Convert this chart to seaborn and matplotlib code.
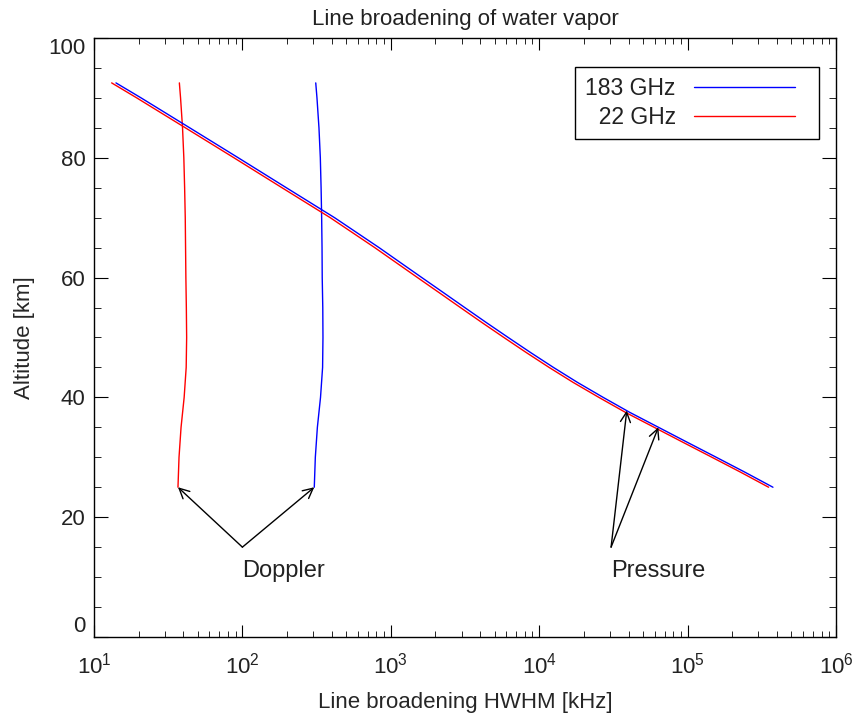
import matplotlib
matplotlib.use("Agg")
import matplotlib.pyplot as plt
from matplotlib.legend_handler import HandlerLine2D
import seaborn as sns
import pandas as pd

# pressure broadening HWHM [kHz] vs altitude [km]
altitude_p = [92.5, 90, 85, 80, 75, 70, 65, 62.5, 60, 57.5, 55, 52.5, 50,
              47.5, 45, 42.5, 40, 37.5, 35, 32.5, 30, 27.5, 25]
pressure_183 = [14.06, 20.75, 44.16, 93.76, 197.7, 417.8, 833.7, 1161, 1618,
                2259, 3148, 4395, 6180, 8730, 12470, 18110, 26980, 40740,
                63680, 99540, 156000, 243800, 375800]
pressure_22 = [13.15, 19.40, 41.29, 87.67, 184.8, 390.6, 779.5, 1086, 1513,
               2112, 2943, 4109, 5778, 8163, 11660, 16930, 25230, 38090,
               59540, 93070, 145900, 228000, 351400]

# doppler broadening HWHM [kHz] vs altitude [km]
altitude_d = [92.5, 90, 85, 80, 75, 70, 65, 60, 55, 50, 45, 40, 35, 30, 25]
doppler_22 = [37.6, 38.3, 39.5, 40.3, 40.8, 41.2, 41.4, 41.6, 41.9, 42.1,
              41.8, 40.5, 38.6, 37.4, 36.8]
doppler_183 = [312, 318, 328, 335, 339, 342, 344, 345, 348, 349,
               347, 336, 320, 310, 305]


class ShortLine(HandlerLine2D):
    # legend line that leaves some room at its right end
    def create_artists(self, legend, orig_handle, xdescent, ydescent,
                       width, height, fontsize, trans):
        return super().create_artists(legend, orig_handle, xdescent, ydescent,
                                      width * 0.88, height, fontsize, trans)


sns.set_style("ticks")
plt.rcParams['font.family'] = ['Liberation Sans', 'DejaVu Sans']
plt.rcParams['mathtext.default'] = 'regular'
plt.rcParams['text.color'] = '#222222'

fig = plt.figure(figsize=(8.53, 7.15), dpi=100)
ax = fig.add_axes([0.1102, 0.1091, 0.8699, 0.8378])

dfp = pd.DataFrame({"alt": altitude_p, "p183": pressure_183, "p22": pressure_22})
dfd = pd.DataFrame({"alt": altitude_d, "d183": doppler_183, "d22": doppler_22})

sns.lineplot(data=dfd, x="d22", y="alt", sort=False, estimator=None,
             color="red", lw=1, ax=ax)
sns.lineplot(data=dfd, x="d183", y="alt", sort=False, estimator=None,
             color="blue", lw=1, ax=ax)
sns.lineplot(data=dfp, x="p22", y="alt", sort=False, estimator=None,
             color="red", lw=1, ax=ax)
sns.lineplot(data=dfp, x="p183", y="alt", sort=False, estimator=None,
             color="blue", lw=1, ax=ax)

ax.set_xscale("log")
ax.set_xlim(10, 1e6)
ax.set_ylim(0, 100)
ax.set_yticks([0, 20, 40, 60, 80, 100])
ax.set_yticks(range(0, 101, 5), minor=True)

for s in ax.spines.values():
    s.set_visible(True)
    s.set_linewidth(1.0)
    s.set_color("black")

ax.tick_params(which="both", direction="in", top=True, right=True,
               labelsize=16, labelcolor="#222222", color="black")
ax.tick_params(axis="x", which="major", length=8.6, pad=11)
ax.tick_params(axis="x", which="minor", length=4.5)
ax.tick_params(axis="y", which="major", length=10, pad=6)
ax.tick_params(axis="y", which="minor", length=5)

fig.canvas.draw()
ylabels = ax.get_yticklabels()
ylabels[0].set_va("bottom")
ylabels[-1].set_va("top")

ax.set_title("Line broadening of water vapor", fontsize=16, pad=9.5)
ax.set_xlabel("Line broadening HWHM [kHz]", fontsize=16, labelpad=10)
ax.set_ylabel("Altitude [km]", fontsize=16, labelpad=10)

arrow = dict(arrowstyle="->", lw=1, color="black", shrinkA=0, shrinkB=0,
             mutation_scale=18)
ax.annotate("", xy=(doppler_22[-1], 25), xytext=(100, 15), arrowprops=arrow)
ax.annotate("", xy=(doppler_183[-1], 25), xytext=(100, 15), arrowprops=arrow)
ax.text(100, 11, "Doppler", fontsize=17, ha="left", va="center")

ax.annotate("", xy=(38900, 37.8), xytext=(30500, 15), arrowprops=arrow)
ax.annotate("", xy=(63500, 35.0), xytext=(30500, 15), arrowprops=arrow)
ax.text(30500, 11, "Pressure", fontsize=17, ha="left", va="center")

handles = [ax.lines[3], ax.lines[2]]
leg = ax.legend(handles, ["183 GHz", "  22 GHz"], loc="upper right",
                bbox_to_anchor=(0.977, 0.9516), borderaxespad=0,
                markerfirst=False, fontsize=16.5, handlelength=5.0,
                handletextpad=0.8, labelspacing=0.25, borderpad=0.45,
                fancybox=False, framealpha=1, edgecolor="black",
                handler_map={matplotlib.lines.Line2D: ShortLine()})
leg.get_frame().set_linewidth(1.0)

fig.savefig("out.png", dpi=100)
